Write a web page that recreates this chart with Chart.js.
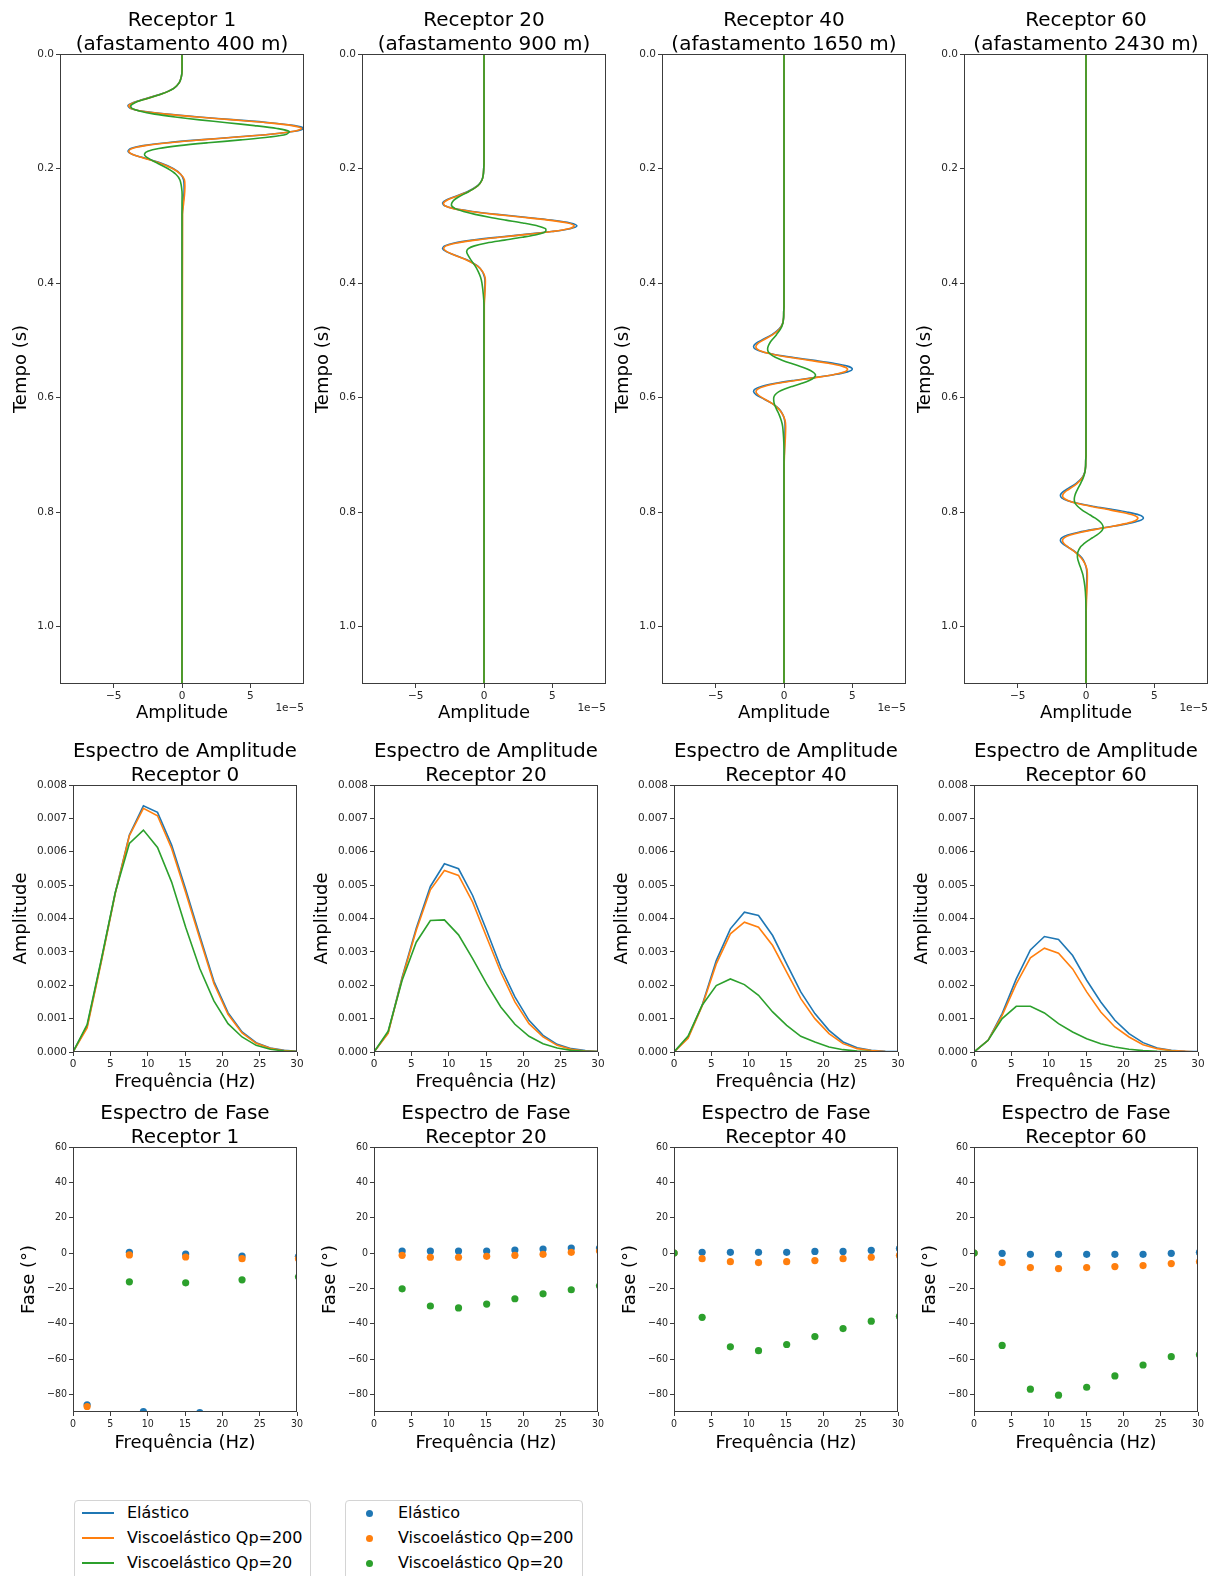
<!DOCTYPE html>
<html lang="pt">
<head>
<meta charset="UTF-8" />
<title>Sismogramas e espectros</title>
<script src="https://cdn.jsdelivr.net/npm/chart.js"></script>
<style>
  body {
    margin: 0;
    width: 1215px;
    height: 1576px;
    overflow: hidden;
    position: relative;
    background: #fff;
    font-family: 'DejaVu Sans', sans-serif;
  }
  canvas { position: absolute; }
  .legenda {
    position: absolute;
    top: 1500px;
    height: 86px;
    border: 1px solid #d4d4d4;
    border-radius: 4px;
    background: #fff;
    box-sizing: border-box;
    font-size: 16px;
    color: #000;
  }
  .item { position: absolute; left: 0; height: 20px; line-height: 20px; white-space: nowrap; }
  .item .texto { position: absolute; left: 52px; }
  .linha { position: absolute; left: 7px; top: 9px; width: 32px; height: 2px; }
  .ponto { position: absolute; left: 20px; top: 7px; width: 7px; height: 7px; border-radius: 50%; }
</style>
</head>
<body>
<script>
  const nomes = ['Elástico', 'Viscoelástico Qp=200', 'Viscoelástico Qp=20'];
  const cores = ['#1f77b4', '#ff7f0e', '#2ca02c'];

  // sismogramas (amplitude em unidades de 1e-5)
  const tempoR1 = [0, 0.03, 0.04, 0.05, 0.06, 0.07, 0.08, 0.085, 0.09, 0.095, 0.10, 0.105, 0.11, 0.115, 0.12, 0.125, 0.13, 0.135, 0.14, 0.145, 0.15, 0.155, 0.16, 0.165, 0.17, 0.175, 0.18, 0.19, 0.20, 0.21, 0.22, 0.24, 0.26, 0.28, 1.1];
  const elasR1 = [0, 0, -0.05, -0.2, -0.6, -1.55, -2.95, -3.6, -3.95, -3.75, -2.85, -1.1, 1.25, 3.95, 6.45, 8.25, 8.9, 8.25, 6.45, 3.95, 1.25, -1.1, -2.85, -3.75, -3.95, -3.65, -3.0, -1.6, -0.65, -0.1, 0.12, 0.15, 0.08, 0.02, 0];
  const visco200R1 = [0, 0, -0.05, -0.2, -0.6, -1.5, -2.9, -3.55, -3.9, -3.72, -2.88, -1.2, 1.1, 3.75, 6.25, 8.05, 8.75, 8.2, 6.5, 4.05, 1.4, -0.95, -2.7, -3.65, -3.9, -3.65, -3.05, -1.7, -0.7, -0.1, 0.18, 0.2, 0.12, 0.04, 0];
  const visco20R1 = [0, 0, -0.05, -0.2, -0.6, -1.5, -2.85, -3.45, -3.75, -3.65, -3.05, -2.0, -0.5, 1.3, 3.3, 5.3, 6.95, 7.85, 7.65, 6.4, 4.3, 1.9, -0.2, -1.7, -2.5, -2.75, -2.6, -1.85, -1.05, -0.45, -0.15, 0, 0, 0, 0];

  const tempoR20 = [0, 0.19, 0.20, 0.21, 0.22, 0.23, 0.24, 0.25, 0.255, 0.26, 0.265, 0.27, 0.275, 0.28, 0.285, 0.29, 0.295, 0.30, 0.305, 0.31, 0.315, 0.32, 0.325, 0.33, 0.335, 0.34, 0.345, 0.35, 0.36, 0.37, 0.38, 0.39, 0.40, 0.42, 0.44, 1.1];
  const elasR20 = [0, 0, -0.02, -0.05, -0.15, -0.47, -1.19, -2.27, -2.76, -3.03, -2.88, -2.18, -0.86, 0.96, 3.03, 4.94, 6.31, 6.8, 6.31, 4.94, 3.03, 0.96, -0.86, -2.18, -2.88, -3.03, -2.76, -2.27, -1.19, -0.47, -0.12, 0.04, 0.07, 0.04, 0, 0];
  const visco200R20 = [0, 0, -0.02, -0.05, -0.14, -0.44, -1.12, -2.18, -2.68, -2.96, -2.86, -2.22, -0.97, 0.78, 2.8, 4.72, 6.12, 6.6, 6.2, 4.95, 3.15, 1.15, -0.65, -2.0, -2.78, -2.95, -2.72, -2.27, -1.25, -0.5, -0.1, 0.08, 0.1, 0.06, 0.02, 0];
  const visco20R20 = [0, 0, -0.02, -0.05, -0.15, -0.45, -1.1, -1.9, -2.2, -2.35, -2.37, -2.1, -1.5, -0.65, 0.4, 1.6, 2.85, 3.9, 4.5, 4.5, 3.9, 2.8, 1.5, 0.2, -0.7, -1.15, -1.27, -1.2, -0.95, -0.65, -0.42, -0.25, -0.15, -0.05, 0, 0];

  const tempoR40 = [0, 0.44, 0.45, 0.46, 0.47, 0.48, 0.49, 0.50, 0.505, 0.51, 0.515, 0.52, 0.525, 0.53, 0.535, 0.54, 0.545, 0.55, 0.555, 0.56, 0.565, 0.57, 0.575, 0.58, 0.585, 0.59, 0.595, 0.60, 0.61, 0.62, 0.63, 0.64, 0.65, 0.67, 0.69, 0.72, 1.1];
  const elasR40 = [0, 0, -0.02, -0.03, -0.1, -0.35, -0.88, -1.67, -2.03, -2.22, -2.12, -1.6, -0.63, 0.71, 2.22, 3.63, 4.64, 5.0, 4.64, 3.63, 2.22, 0.71, -0.63, -1.6, -2.12, -2.22, -2.03, -1.67, -0.88, -0.35, -0.08, 0.05, 0.08, 0.06, 0.03, 0, 0];
  const visco200R40 = [0, 0, -0.02, -0.03, -0.09, -0.32, -0.82, -1.55, -1.88, -2.05, -1.98, -1.55, -0.7, 0.5, 1.9, 3.25, 4.25, 4.65, 4.45, 3.6, 2.3, 0.85, -0.45, -1.4, -1.92, -2.05, -1.9, -1.6, -0.88, -0.38, -0.08, 0.08, 0.12, 0.1, 0.05, 0.01, 0];
  const visco20R40 = [0, 0, -0.02, -0.03, -0.08, -0.25, -0.55, -0.9, -1.05, -1.15, -1.2, -1.15, -0.95, -0.6, -0.1, 0.5, 1.15, 1.7, 2.1, 2.3, 2.2, 1.85, 1.3, 0.65, 0.05, -0.4, -0.65, -0.75, -0.72, -0.55, -0.35, -0.2, -0.1, -0.03, 0, 0, 0];

  const tempoR60 = [0, 0.70, 0.71, 0.72, 0.73, 0.74, 0.75, 0.76, 0.765, 0.77, 0.775, 0.78, 0.785, 0.79, 0.795, 0.80, 0.805, 0.81, 0.815, 0.82, 0.825, 0.83, 0.835, 0.84, 0.845, 0.85, 0.855, 0.86, 0.87, 0.88, 0.89, 0.90, 0.91, 0.93, 0.95, 0.98, 1.1];
  const elasR60 = [0, 0, -0.02, -0.03, -0.09, -0.29, -0.74, -1.4, -1.71, -1.87, -1.78, -1.34, -0.53, 0.59, 1.87, 3.05, 3.9, 4.2, 3.9, 3.05, 1.87, 0.59, -0.53, -1.34, -1.78, -1.87, -1.71, -1.4, -0.74, -0.29, -0.07, 0.04, 0.06, 0.04, 0.02, 0, 0];
  const visco200R60 = [0, 0, -0.02, -0.03, -0.08, -0.26, -0.66, -1.25, -1.55, -1.7, -1.65, -1.28, -0.6, 0.38, 1.5, 2.6, 3.45, 3.8, 3.6, 2.9, 1.9, 0.72, -0.35, -1.15, -1.6, -1.72, -1.6, -1.35, -0.78, -0.35, -0.08, 0.07, 0.1, 0.08, 0.04, 0.01, 0];
  const visco20R60 = [0, 0, -0.02, -0.03, -0.08, -0.2, -0.4, -0.62, -0.72, -0.8, -0.85, -0.85, -0.78, -0.6, -0.35, -0.05, 0.3, 0.65, 0.95, 1.15, 1.25, 1.22, 1.05, 0.78, 0.45, 0.12, -0.15, -0.38, -0.6, -0.62, -0.5, -0.35, -0.22, -0.08, -0.02, 0, 0];

  // espectro de amplitude
  const freq = [0, 1.89, 3.77, 5.66, 7.55, 9.43, 11.32, 13.21, 15.09, 16.98, 18.87, 20.76, 22.64, 24.53, 26.42, 28.30, 30.19];
  const ampElasR0 = [0, 0.00077, 0.00272, 0.00477, 0.0065, 0.00738, 0.00718, 0.0062, 0.00488, 0.00348, 0.00212, 0.00118, 0.0006, 0.00028, 0.00012, 0.00005, 0.00002];
  const ampV200R0 = [0, 0.00072, 0.00268, 0.00475, 0.00648, 0.0073, 0.00708, 0.0061, 0.00478, 0.0034, 0.00205, 0.00113, 0.00057, 0.00026, 0.00011, 0.00004, 0.00001];
  const ampV20R0 = [0, 0.00082, 0.00275, 0.00478, 0.00625, 0.00665, 0.00613, 0.00509, 0.00374, 0.0025, 0.00153, 0.00085, 0.00045, 0.0002, 0.00008, 0.00003, 0.00001];
  const ampElasR20 = [0, 0.00058, 0.00224, 0.00371, 0.00496, 0.00564, 0.00549, 0.00469, 0.00364, 0.00254, 0.00165, 0.00095, 0.0005, 0.00023, 0.0001, 0.00004, 0.00001];
  const ampV200R20 = [0, 0.00056, 0.0022, 0.00365, 0.00486, 0.00544, 0.00529, 0.00449, 0.00344, 0.00239, 0.0015, 0.00085, 0.00045, 0.0002, 0.00008, 0.00003, 0.00001];
  const ampV20R20 = [0, 0.00062, 0.00215, 0.00329, 0.00394, 0.00396, 0.00351, 0.0028, 0.00204, 0.00135, 0.00083, 0.00047, 0.00025, 0.00012, 0.00005, 0.00002, 0.00001];
  const ampElasR40 = [0, 0.00045, 0.0014, 0.00274, 0.00369, 0.00419, 0.00409, 0.00349, 0.00264, 0.0018, 0.00115, 0.00065, 0.0003, 0.00013, 0.00005, 0.00002, 0.00001];
  const ampV200R40 = [0, 0.00041, 0.00138, 0.00264, 0.00354, 0.00389, 0.00374, 0.00319, 0.00239, 0.0016, 0.001, 0.00055, 0.00025, 0.0001, 0.00004, 0.00001, 0];
  const ampV20R40 = [0, 0.00048, 0.0014, 0.00199, 0.00219, 0.00202, 0.0017, 0.0012, 0.0008, 0.00047, 0.0003, 0.00015, 0.00007, 0.00003, 0.00001, 0, 0];
  const ampElasR60 = [0, 0.00035, 0.00115, 0.00219, 0.00306, 0.00346, 0.00337, 0.00289, 0.00215, 0.0015, 0.00095, 0.00055, 0.00028, 0.00012, 0.00005, 0.00002, 0.00001];
  const ampV200R60 = [0, 0.00035, 0.0011, 0.00204, 0.00282, 0.00311, 0.00296, 0.00249, 0.0018, 0.0012, 0.00075, 0.00045, 0.00022, 0.0001, 0.00004, 0.00002, 0];
  const ampV20R60 = [0, 0.00035, 0.001, 0.00137, 0.00137, 0.00117, 0.00085, 0.0006, 0.0004, 0.00025, 0.00015, 0.00008, 0.00004, 0.00002, 0.00001, 0, 0];

  // espectro de fase (graus), null = sem ponto
  const faseElasR1 = [null, -85.9, null, null, 0.4, -89.8, null, null, -0.6, -90.4, null, null, -1.7, null, null, null, -1.9];
  const faseV200R1 = [null, -86.9, null, null, -1.1, null, null, null, -2.25, null, null, null, -3.2, null, null, null, -3.2];
  const faseV20R1 = [null, null, null, null, -16.3, null, null, null, -16.9, null, null, null, -15.2, null, null, null, -13.5];
  const faseElasR20 = [null, null, 1.1, null, 1.1, null, 1.1, null, 1.1, null, 1.7, null, 2.25, null, 2.8, null, 2.8];
  const faseV200R20 = [null, null, -1.3, null, -2.4, null, -2.4, null, -1.9, null, -1.3, null, -0.75, null, 0.4, null, 1.1];
  const faseV20R20 = [null, null, -20.3, null, -30.0, null, -31.1, null, -28.9, null, -25.9, null, -23.1, null, -20.8, null, -18.6];
  const faseElasR40 = [0, null, 0.4, null, 0.4, null, 0.4, null, 0.4, null, 0.9, null, 0.9, null, 1.5, null, 2.6];
  const faseV200R40 = [0, null, -3.2, null, -4.9, null, -5.4, null, -4.9, null, -4.3, null, -3.2, null, -2.4, null, -1.3];
  const faseV20R40 = [0, null, -36.4, null, -53.1, null, -55.3, null, -51.8, null, -47.3, null, -42.8, null, -38.6, null, -35.8];
  const faseElasR60 = [0, null, -0.2, null, -0.75, null, -0.75, null, -0.75, null, -0.75, null, -0.75, null, -0.2, null, 0.4];
  const faseV200R60 = [0, null, -5.4, null, -8.25, null, -8.8, null, -8.25, null, -7.7, null, -7.1, null, -6.0, null, -4.9];
  const faseV20R60 = [0, null, -52.3, null, -77.1, null, -80.5, null, -76.0, null, -69.6, null, -63.4, null, -58.7, null, -57.6];

  Chart.defaults.font.family = "'DejaVu Sans', sans-serif";
  Chart.defaults.color = '#000';

  const menos = (v) => String(v).replace('-', '\u2212');

  // contorno do eixo nos quatro lados, como no matplotlib
  const moldura = {
    id: 'moldura',
    afterDatasetsDraw(chart) {
      const { ctx, chartArea: a } = chart;
      ctx.save();
      ctx.strokeStyle = '#3c3c3c';
      ctx.lineWidth = 1;
      ctx.strokeRect(a.left + 0.5, a.top + 0.5, a.width - 1, a.height - 1);
      ctx.restore();
    },
  };

  const expoente = {
    id: 'expoente',
    afterDraw(chart) {
      const { ctx, chartArea: a } = chart;
      ctx.save();
      ctx.font = "10.5px 'DejaVu Sans'";
      ctx.fillStyle = '#262626';
      ctx.textAlign = 'right';
      ctx.textBaseline = 'middle';
      ctx.fillText('1e\u22125', a.right, a.bottom + 24);
      ctx.restore();
    },
  };

  function eixo(lado, tam, min, max, marcas, fmt, titulo, extra) {
    return Object.assign({
      type: 'linear',
      min, max,
      afterBuildTicks: (s) => { s.ticks = marcas.map((v) => ({ value: v })); },
      afterFit: (s) => { if (lado === 'x') s.height = tam; else s.width = tam; },
      ticks: { callback: fmt, font: { size: 10.5 }, color: '#262626', padding: 2, maxRotation: 0, autoSkip: false },
      grid: { drawOnChartArea: false, drawTicks: true, tickLength: 4, color: '#3c3c3c' },
      border: { display: false },
      title: { display: true, text: titulo, font: { size: 18 }, color: '#000', padding: 0 },
    }, extra || {});
  }

  function grafico(left, top, w, h, titulo, datasets, x, y, extras) {
    const cv = document.createElement('canvas');
    cv.width = w;
    cv.height = h;
    cv.style.left = left + 'px';
    cv.style.top = top + 'px';
    document.body.appendChild(cv);
    return new Chart(cv, {
      type: 'scatter',
      data: { datasets },
      options: {
        responsive: false,
        animation: false,
        events: [],
        layout: { padding: { right: 14 } },
        plugins: {
          legend: { display: false },
          tooltip: { enabled: false },
          title: {
            display: true, text: titulo, fullSize: false, color: '#000',
            padding: { top: 3, bottom: -3 },
            font: { size: 20, weight: 'normal', lineHeight: 1.2 },
          },
        },
        scales: { x, y },
      },
      plugins: [moldura].concat(extras || []),
    });
  }

  function linhas(xs, ys, series, vertical, tension) {
    return series.map((s, i) => ({
      label: nomes[i],
      data: xs.map((v, k) => (vertical ? { x: s[k], y: v } : { x: v, y: s[k] })),
      showLine: true,
      borderColor: cores[i],
      backgroundColor: cores[i],
      borderWidth: 1.6,
      pointRadius: 0,
      tension,
      order: 2 - i,
    }));
  }

  function pontos(xs, series) {
    return series.map((s, i) => ({
      label: nomes[i],
      data: xs.map((v, k) => ({ x: v, y: s[k] })).filter((p) => p.y !== null),
      showLine: false,
      pointRadius: 3.6,
      pointBorderWidth: 0,
      pointBackgroundColor: cores[i],
      order: 2 - i,
    }));
  }

  // linha 1: sismogramas
  const sismos = [
    ['Receptor 1', '(afastamento 400 m)', tempoR1, [elasR1, visco200R1, visco20R1]],
    ['Receptor 20', '(afastamento 900 m)', tempoR20, [elasR20, visco200R20, visco20R20]],
    ['Receptor 40', '(afastamento 1650 m)', tempoR40, [elasR40, visco200R40, visco20R40]],
    ['Receptor 60', '(afastamento 2430 m)', tempoR60, [elasR60, visco200R60, visco20R60]],
  ];
  const esq1 = [11, 313, 613, 915];
  sismos.forEach(([t1, t2, tempo, series], i) => {
    grafico(esq1[i], 6, 307, 718, [t1, t2], linhas(tempo, tempo, series, true, 0.3),
      eixo('x', 40, -8.93, 8.93, [-5, 0, 5], menos, 'Amplitude'),
      eixo('y', 49, 0, 1.1, [0, 0.2, 0.4, 0.6, 0.8, 1.0], (v) => v.toFixed(1), 'Tempo (s)', { reverse: true }),
      [expoente]);
  });

  // linha 2: espectros de amplitude
  const amps = [
    ['Receptor 0', [ampElasR0, ampV200R0, ampV20R0]],
    ['Receptor 20', [ampElasR20, ampV200R20, ampV20R20]],
    ['Receptor 40', [ampElasR40, ampV200R40, ampV20R40]],
    ['Receptor 60', [ampElasR60, ampV200R60, ampV20R60]],
  ];
  const esq2 = [11, 312, 612, 912];
  amps.forEach(([rec, series], i) => {
    grafico(esq2[i], 737, 300, 356, ['Espectro de Amplitude', rec], linhas(freq, freq, series, false, 0),
      eixo('x', 41, 0, 30, [0, 5, 10, 15, 20, 25, 30], menos, 'Frequência (Hz)'),
      eixo('y', 62, 0, 0.008, [0, 0.001, 0.002, 0.003, 0.004, 0.005, 0.006, 0.007, 0.008], (v) => v.toFixed(3), 'Amplitude'));
  });

  // linha 3: espectros de fase
  const fases = [
    ['Receptor 1', [faseElasR1, faseV200R1, faseV20R1]],
    ['Receptor 20', [faseElasR20, faseV200R20, faseV20R20]],
    ['Receptor 40', [faseElasR40, faseV200R40, faseV20R40]],
    ['Receptor 60', [faseElasR60, faseV200R60, faseV20R60]],
  ];
  const esq3 = [19, 320, 620, 920];
  const fonteFase = { size: 10.5, family: "'DejaVu Sans Condensed', 'DejaVu Sans', sans-serif" };
  fases.forEach(([rec, series], i) => {
    const x = eixo('x', 42, 0, 30, [0, 5, 10, 15, 20, 25, 30], menos, 'Frequência (Hz)');
    const y = eixo('y', 54, -90, 60, [-80, -60, -40, -20, 0, 20, 40, 60], menos, 'Fase (°)');
    x.ticks.font = fonteFase;
    y.ticks.font = fonteFase;
    grafico(esq3[i], 1099, 292, 355, ['Espectro de Fase', rec], pontos(freq, series), x, y);
  });

  // legendas
  function legenda(left, width, tipo) {
    const box = document.createElement('div');
    box.className = 'legenda';
    box.style.left = left + 'px';
    box.style.width = width + 'px';
    nomes.forEach((nome, i) => {
      const item = document.createElement('div');
      item.className = 'item';
      item.style.top = (1.5 + 25.2 * i) + 'px';
      const marca = document.createElement('span');
      marca.className = tipo;
      marca.style.background = cores[i];
      const texto = document.createElement('span');
      texto.className = 'texto';
      texto.textContent = nome;
      item.appendChild(marca);
      item.appendChild(texto);
      box.appendChild(item);
    });
    document.body.appendChild(box);
  }
  legenda(74, 237, 'linha');
  legenda(345, 238, 'ponto');
</script>
</body>
</html>
